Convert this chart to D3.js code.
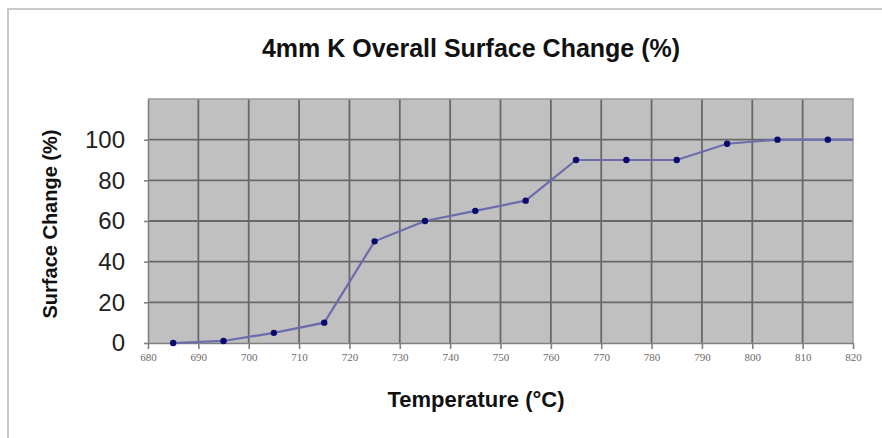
<!DOCTYPE html>
<html><head><meta charset="utf-8">
<script src="https://cdn.jsdelivr.net/npm/d3@7"></script>
<style>body{margin:0;background:#fff;}svg{display:block;}</style>
</head><body>
<svg id="c" width="882" height="438"></svg>
<script>
const temps = [685,695,705,715,725,735,745,755,765,775,785,795,805,815];
const surfaceChange = [0,1,5,10,50,60,65,70,90,90,90,98,100,100];
const xTicks = [680,690,700,710,720,730,740,750,760,770,780,790,800,810,820];
const yTicks = [0,20,40,60,80,100];
const yGrid = [0,20,40,60,80,100,120];
const titleText = "4mm K Overall Surface Change (%)";
const xTitle = "Temperature (°C)";
const yTitle = "Surface Change (%)";

const svg = d3.select("#c");
const m = {l:148, r:853, t:99, b:343};
const x = d3.scaleLinear().domain([680,820]).range([m.l,m.r]);
const y = d3.scaleLinear().domain([0,120]).range([m.b,m.t]);

// outer frame
svg.append("path").attr("d",`M8,440 L8,9 L884,9`).attr("fill","none")
  .attr("stroke","#c8c8c8").attr("stroke-width",2);

svg.append("rect").attr("x",m.l).attr("y",m.t).attr("width",m.r-m.l).attr("height",m.b-m.t)
  .attr("fill","#c0c0c0");

// grid
svg.append("g").selectAll("line").data(xTicks.slice(1,-1)).join("line")
  .attr("x1",d=>x(d)).attr("x2",d=>x(d)).attr("y1",m.t).attr("y2",m.b)
  .attr("stroke","#686868").attr("stroke-width",1.8);
svg.append("g").selectAll("line").data(yGrid.slice(1,-1)).join("line")
  .attr("x1",m.l).attr("x2",m.r).attr("y1",d=>y(d)).attr("y2",d=>y(d))
  .attr("stroke","#686868").attr("stroke-width",1.8);
// top & right border
svg.append("path").attr("d",`M${m.l},${m.t} L${m.r},${m.t} L${m.r},${m.b}`)
  .attr("fill","none").attr("stroke","#9a9a9a").attr("stroke-width",1.5);

// axes
const xa = svg.append("g").attr("transform",`translate(0,${m.b})`)
  .call(d3.axisBottom(x).tickValues(xTicks).tickSize(6).tickSizeOuter(0).tickFormat(d3.format("d")));
xa.select(".domain").attr("stroke","#808080").attr("stroke-width",1.6);
xa.selectAll(".tick line").attr("stroke","#808080").attr("stroke-width",1.6);
xa.selectAll(".tick text").attr("font-family","'Liberation Serif','DejaVu Serif',serif")
  .attr("font-size",11).attr("fill","#6a6a6a").attr("dy","0.8em");

const ya = svg.append("g").attr("transform",`translate(${m.l},0)`)
  .call(d3.axisLeft(y).tickValues(yTicks).tickSize(4).tickSizeOuter(0).tickPadding(19));
ya.select(".domain").attr("stroke","#808080").attr("stroke-width",1.6);
ya.selectAll(".tick line").attr("stroke","#808080").attr("stroke-width",1.6);
ya.selectAll(".tick text").attr("font-family","'Liberation Sans',Arial,sans-serif")
  .attr("font-size",24).attr("fill","#222");

// line
svg.append("path").datum(temps.map((t,i)=>[t,surfaceChange[i]]).concat([[820,100]]))
  .attr("d",d3.line().x(d=>x(d[0])).y(d=>y(d[1])))
  .attr("fill","none").attr("stroke","#6c6cac").attr("stroke-width",2.2);
svg.append("g").selectAll("circle").data(temps).join("circle")
  .attr("cx",d=>x(d)).attr("cy",(d,i)=>y(surfaceChange[i])).attr("r",3.2)
  .attr("fill","#0a0a6e");

// titles
svg.append("text").attr("x",471).attr("y",57).attr("text-anchor","middle")
  .attr("font-family","'Liberation Sans',Arial,sans-serif").attr("font-weight","bold")
  .attr("font-size",25).attr("fill","#111").text(titleText);
svg.append("text").attr("x",476).attr("y",407).attr("text-anchor","middle")
  .attr("font-family","'Liberation Sans',Arial,sans-serif").attr("font-weight","bold")
  .attr("font-size",22).attr("fill","#111").text(xTitle);
svg.append("text").attr("transform","translate(57,224) rotate(-90)").attr("text-anchor","middle")
  .attr("font-family","'Liberation Sans',Arial,sans-serif").attr("font-weight","bold")
  .attr("font-size",20).attr("fill","#111").text(yTitle);
</script>
</body></html>
